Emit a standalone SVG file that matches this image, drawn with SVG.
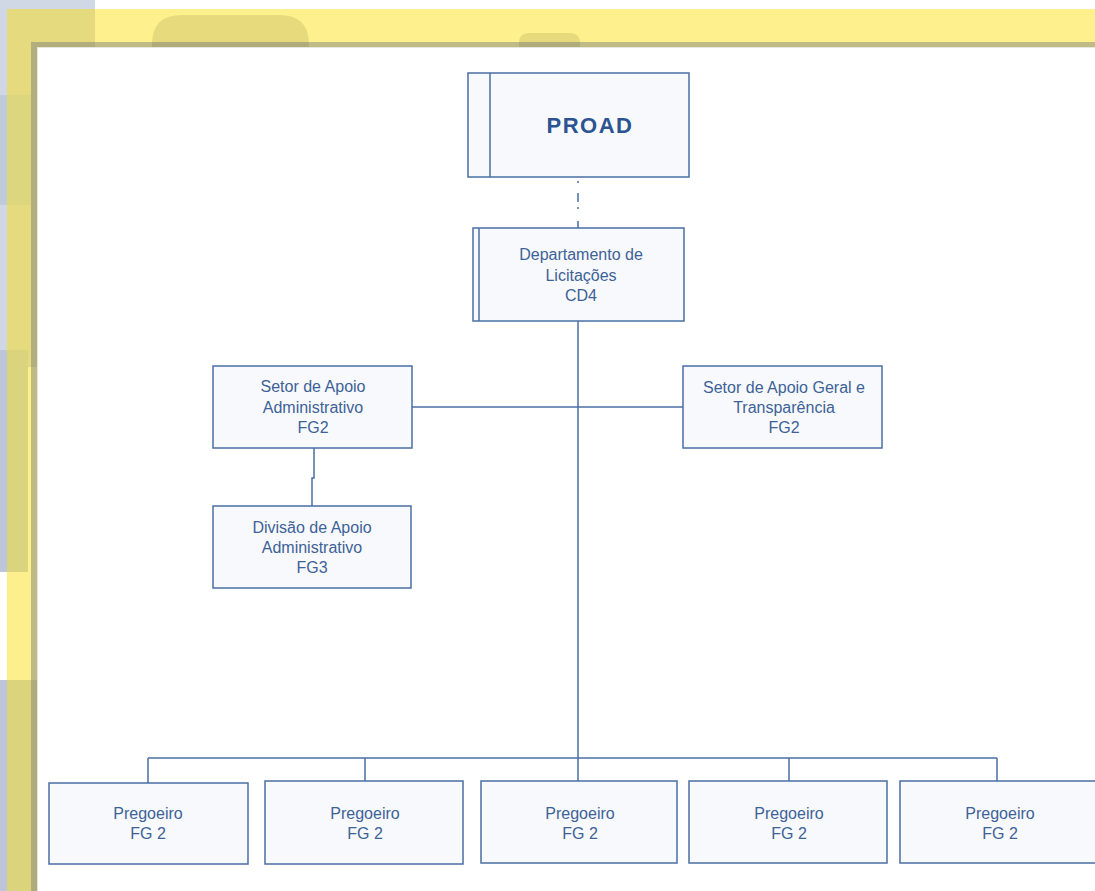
<svg xmlns="http://www.w3.org/2000/svg" width="1095" height="891" viewBox="0 0 1095 891">
<style>
.box{fill:#f8f9fc;stroke:#4a6fa5;stroke-width:1.5}
.ln{fill:none;stroke:#4a6fa5;stroke-width:1.5}
.t{font-family:"Liberation Sans",Arial,sans-serif;font-size:16px;fill:#3d6298;text-anchor:middle}
.tb{font-family:"Liberation Sans",Arial,sans-serif;font-size:22px;font-weight:bold;fill:#2b5490;text-anchor:middle;letter-spacing:1.5px}
</style>
<g id="background">
<rect x="0" y="0" width="1095" height="891" fill="#ffffff"/>
<rect x="0" y="0" width="95" height="9" fill="#d0d8e6"/>
<rect x="0" y="9" width="7" height="86" fill="#d0d8e6"/>
<rect x="0" y="95" width="7" height="110" fill="#bfcadb"/>
<rect x="0" y="205" width="7" height="145" fill="#d0d8e6"/>
<rect x="0" y="350" width="7" height="222" fill="#bcc6d8"/>
<rect x="0" y="680" width="7" height="211" fill="#bcc6d8"/>
<rect x="7" y="9" width="1088" height="33" fill="#fef08c"/>
<rect x="7" y="9" width="88" height="33" fill="#e5db7e"/>
<rect x="7" y="42" width="24" height="325" fill="#e5db7e"/>
<rect x="7" y="95" width="24" height="110" fill="#dcd67f"/>
<rect x="7" y="367" width="24" height="313" fill="#fdef8c"/>
<path d="M7 350 H3 A25 25 0 0 1 28 375 V547 A25 25 0 0 1 3 572 H7 Z" fill="#dad47f"/>
<rect x="7" y="350" width="21" height="222" fill="#dad47f"/>
<rect x="7" y="680" width="24" height="211" fill="#dbd47d"/>
<path d="M152 42 V44 Q152 15 182 15 H279 Q309 15 309 44 V42 Z" fill="#e6da7c"/>
<path d="M519 42 V43 Q519 33 529 33 H570 Q580 33 580 43 V42 Z" fill="#e6da7c"/>
<rect x="31" y="42" width="1064" height="5" fill="#bfba86"/>
<rect x="31" y="42" width="64" height="5" fill="#b2ad7c"/>
<rect x="152" y="42" width="157" height="5" fill="#b0ab7b"/>
<rect x="519" y="42" width="61" height="5" fill="#b0ab7b"/>
<rect x="31" y="42" width="6" height="325" fill="#b3ae7d"/>
<rect x="31" y="367" width="6" height="313" fill="#bfba85"/>
<rect x="31" y="680" width="6" height="211" fill="#afaa7a"/>
<rect x="37" y="47" width="1058" height="1" fill="#e6e6dc"/>
<rect x="37" y="47" width="1" height="844" fill="#e6e6dc"/>
</g>
<g id="connectors">
<path class="ln" d="M578 181 V183 M578 193 V202 M578 207 V209 M578 221 V228"/>
<path class="ln" d="M578 321 V781"/>
<path class="ln" d="M412 407 H465"/>
<path class="ln" d="M465 407 H578" stroke="#9fb3cb"/>
<path class="ln" d="M578 407 H684"/>
<path class="ln" d="M314 448 V478 H312 V506"/>
<path class="ln" d="M148 758 H997"/>
<path class="ln" d="M148 758 V783 M365 758 V781 M789 758 V781"/>
<path class="ln" d="M997 758 V781" stroke="#8ea6c4"/>
</g>
<g id="proad">
<rect class="box" x="468" y="73" width="221" height="104"/>
<line class="ln" x1="490" y1="73" x2="490" y2="177"/>
<text class="tb" x="590" y="133">PROAD</text>
</g>
<g id="dept">
<rect class="box" x="473" y="228" width="211" height="93"/>
<line class="ln" x1="479" y1="228" x2="479" y2="321"/>
<text class="t" x="581" y="260">Departamento de</text>
<text class="t" x="581" y="280.5">Licitações</text>
<text class="t" x="581" y="301">CD4</text>
</g>
<g id="setor-admin">
<rect class="box" x="213" y="366" width="199" height="82"/>
<text class="t" x="313" y="392">Setor de Apoio</text>
<text class="t" x="313" y="413">Administrativo</text>
<text class="t" x="313" y="433">FG2</text>
</g>
<g id="setor-geral">
<rect class="box" x="683" y="366" width="199" height="82"/>
<text class="t" x="784" y="393">Setor de Apoio Geral e</text>
<text class="t" x="784" y="413">Transparência</text>
<text class="t" x="784" y="433">FG2</text>
</g>
<g id="divisao">
<rect class="box" x="213" y="506" width="198" height="82"/>
<text class="t" x="312" y="533">Divisão de Apoio</text>
<text class="t" x="312" y="553">Administrativo</text>
<text class="t" x="312" y="573">FG3</text>
</g>
<g id="pregoeiro1">
<rect class="box" x="49" y="783" width="199" height="81"/>
<text class="t" x="148" y="819">Pregoeiro</text>
<text class="t" x="148" y="839">FG 2</text>
</g>
<g id="pregoeiro2">
<rect class="box" x="265" y="781" width="198" height="83"/>
<text class="t" x="365" y="819">Pregoeiro</text>
<text class="t" x="365" y="839">FG 2</text>
</g>
<g id="pregoeiro3">
<rect class="box" x="481" y="781" width="196" height="82"/>
<text class="t" x="580" y="819">Pregoeiro</text>
<text class="t" x="580" y="839">FG 2</text>
</g>
<g id="pregoeiro4">
<rect class="box" x="689" y="781" width="198" height="82"/>
<text class="t" x="789" y="819">Pregoeiro</text>
<text class="t" x="789" y="839">FG 2</text>
</g>
<g id="pregoeiro5">
<rect class="box" x="900" y="781" width="200" height="82"/>
<text class="t" x="1000" y="819">Pregoeiro</text>
<text class="t" x="1000" y="839">FG 2</text>
</g>
</svg>
